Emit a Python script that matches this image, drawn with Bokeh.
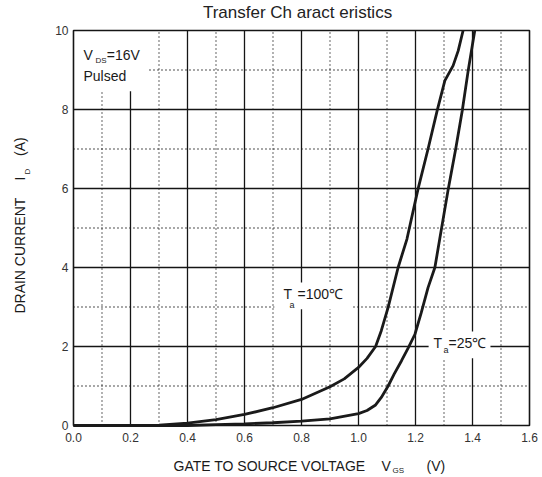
from bokeh.plotting import figure
from bokeh.models import Range1d, Label
from bokeh.core.properties import value
from bokeh.embed import file_html
from bokeh.resources import INLINE
import math

# ---- data ----
vgs_100 = [0.0, 0.2, 0.3, 0.4, 0.5, 0.6, 0.7, 0.8, 0.9, 0.95, 1.0, 1.03, 1.06, 1.08, 1.104, 1.139, 1.17,
           1.209, 1.244, 1.276, 1.303, 1.332, 1.35, 1.367]
id_100 = [0.0, 0.0, 0.01, 0.06, 0.15, 0.28, 0.45, 0.66, 0.98, 1.18, 1.47, 1.70, 2.0, 2.4, 2.99, 4.0, 4.72,
          5.99, 7.0, 7.97, 8.73, 9.11, 9.49, 10.0]

vgs_25 = [0.0, 0.4, 0.5, 0.6, 0.7, 0.8, 0.9, 1.0, 1.03, 1.06, 1.08, 1.104, 1.125, 1.151, 1.175, 1.198,
          1.22, 1.244, 1.268, 1.285, 1.315, 1.341, 1.364, 1.385, 1.408]
id_25 = [0.0, 0.0, 0.02, 0.04, 0.07, 0.11, 0.17, 0.30, 0.38, 0.52, 0.71, 1.0, 1.3, 1.64, 1.97, 2.31,
         2.85, 3.49, 4.0, 4.72, 5.99, 7.0, 7.97, 8.99, 10.0]

x_ticks = [0.0, 0.2, 0.4, 0.6, 0.8, 1.0, 1.2, 1.4, 1.6]
x_minor = [0.1, 0.3, 0.5, 0.7, 0.9, 1.1, 1.3, 1.5]
y_ticks = [0, 2, 4, 6, 8, 10]
y_minor = [1, 3, 5, 7, 9]
x_tick_labels = ["0.0", "0.2", "0.4", "0.6", "0.8", "1.0", "1.2", "1.4", "1.6"]
y_tick_labels = ["0", "2", "4", "6", "8", "10"]

title_text = "Transfer Ch aract eristics"
FONT = "Liberation Sans"
INK = "#151515"

X_MIN, X_MAX = x_ticks[0], x_ticks[-1]
Y_MIN, Y_MAX = y_ticks[0], y_ticks[-1]

# the frame covers the whole canvas; the chart box (0..1.6, 0..10) sits inside it
p = figure(width=542, height=477, output_backend="svg", toolbar_location=None,
           x_range=Range1d(-0.2561, 1.6456), y_range=Range1d(-1.3165, 10.759),
           min_border=0, outline_line_color=None)
p.axis.visible = False
p.grid.visible = False
p.background_fill_color = "white"
p.border_fill_color = "white"

n_xm, n_ym = len(x_minor), len(y_minor)
inner_x = x_ticks[1:-1]
inner_y = y_ticks[1:-1]

# minor (dotted) grid
p.segment(x0=x_minor, y0=[Y_MIN] * n_xm, x1=x_minor, y1=[Y_MAX] * n_xm,
          line_color=INK, line_width=1.3, line_dash="1 3")
p.segment(x0=[X_MIN] * n_ym, y0=y_minor, x1=[X_MAX] * n_ym, y1=y_minor,
          line_color=INK, line_width=1.3, line_dash="1 3")
# major (solid) grid
p.segment(x0=inner_x, y0=[Y_MIN] * len(inner_x), x1=inner_x, y1=[Y_MAX] * len(inner_x),
          line_color=INK, line_width=1.3)
p.segment(x0=[X_MIN] * len(inner_y), y0=inner_y, x1=[X_MAX] * len(inner_y), y1=inner_y,
          line_color=INK, line_width=1.3)

# white boxes behind the in-plot labels
p.quad(left=[0.0, 0.705, 1.246], right=[0.263, 0.979, 1.463],
       bottom=[8.46, 2.94, 1.70], top=[10.0, 3.62, 2.38],
       fill_color="white", line_color=None)

# frame
p.quad(left=[X_MIN], right=[X_MAX], bottom=[Y_MIN], top=[Y_MAX],
       fill_color=None, line_color=INK, line_width=1.6)

# curves
p.line(vgs_100, id_100, line_color="#1a1a1a", line_width=2.8)
p.line(vgs_25, id_25, line_color="#1a1a1a", line_width=2.8)

# tick labels
p.text(x=x_ticks, y=[-0.30] * len(x_ticks), text=x_tick_labels, text_font=value(FONT),
       text_font_size="12px", text_color="#333333", text_align="center", text_baseline="middle")
p.text(x=[-0.0175] * len(y_ticks), y=y_ticks, text=y_tick_labels, text_font=value(FONT),
       text_font_size="12px", text_color="#333333", text_align="right", text_baseline="middle")


def lab(x, y, text, size="14px", align="left", angle=0.0, color="#1a1a1a"):
    p.add_layout(Label(x=x, y=y, text=text, text_font=FONT, text_font_size=size, text_color=color,
                       text_align=align, text_baseline="middle", angle=angle))


# title
lab(0.786, 10.456, title_text, size="17px", align="center", color="#222222")

# V_DS / Pulsed
lab(0.035, 9.39, "V")
lab(0.077, 9.25, "DS", size="8px")
lab(0.117, 9.39, "=16V")
lab(0.035, 8.86, "Pulsed")

# Ta labels
lab(0.737, 3.34, "T")
lab(0.758, 3.06, "a", size="9px")
lab(0.786, 3.34, "=100\u2103")
lab(1.263, 2.10, "T")
lab(1.298, 1.90, "a", size="9px")
lab(1.316, 2.10, "=25\u2103")

# x axis label
lab(0.351, -1.013, "GATE TO SOURCE VOLTAGE")
lab(1.081, -1.013, "V")
lab(1.119, -1.14, "GS", size="8px")
lab(1.239, -1.013, "(V)")

# y axis label (rotated)
rot = math.pi / 2
lab(-0.189, 4.30, "DRAIN CURRENT", align="center", angle=rot)
lab(-0.189, 6.25, "I", align="center", angle=rot)
lab(-0.162, 6.43, "D", size="8px", align="center", angle=rot)
lab(-0.189, 7.06, "(A)", align="center", angle=rot)

open("out.html", "w").write(file_html(p, INLINE))
